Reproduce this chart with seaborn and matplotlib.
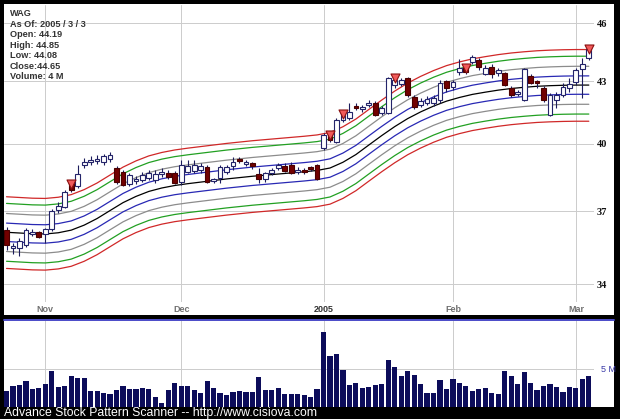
import numpy as np
import pandas as pd
import matplotlib
matplotlib.use("Agg")
import matplotlib.pyplot as plt
import matplotlib.transforms as mtransforms
from matplotlib.patches import Rectangle
from matplotlib.lines import Line2D
from matplotlib.ticker import NullLocator, FixedLocator, FixedFormatter
import seaborn as sns

sns.set_theme(style="white")
plt.rcParams["font.family"] = ["Liberation Sans", "DejaVu Sans"]

# ---------------- data ----------------
opens = [36.19, 35.44, 35.44, 35.57, 36.02, 36.11, 36.02, 36.23, 37.04, 37.17,
         38.26, 38.09, 39.03, 39.16, 39.21, 39.16, 39.29, 38.89, 38.71, 38.17,
         38.31, 38.35, 38.44, 38.35, 38.62, 38.66, 38.66, 38.26, 38.71, 38.75,
         38.80, 38.94, 38.31, 38.44, 38.71, 38.98, 39.29, 39.07, 39.12, 38.62,
         38.40, 38.66, 38.89, 38.98, 39.03, 38.71, 38.80, 38.94, 39.03, 39.80,
         40.50, 40.08, 41.11, 41.21, 41.78, 41.64, 41.83, 41.93, 41.45, 41.45,
         42.81, 42.86, 43.16, 42.22, 41.83, 41.93, 41.93, 42.07, 43.01, 42.71,
         43.46, 43.72, 43.97, 44.07, 43.36, 43.72, 43.41, 43.41, 42.66, 42.37,
         42.07, 43.26, 43.01, 42.66, 41.35, 42.07, 42.32, 42.66, 42.96, 43.62,
         44.19]
highs = [36.32, 35.65, 35.85, 36.27, 36.23, 36.15, 36.27, 37.08, 37.38, 37.91,
         38.35, 39.03, 39.34, 39.43, 39.48, 39.53, 39.62, 38.98, 38.80, 38.66,
         38.53, 38.71, 38.80, 38.80, 38.89, 38.80, 38.75, 39.25, 39.25, 39.25,
         39.12, 39.03, 38.44, 39.03, 39.03, 39.39, 39.39, 39.25, 39.16, 38.89,
         38.71, 38.89, 39.12, 39.12, 39.16, 38.94, 38.89, 38.98, 39.07, 40.50,
         40.59, 41.21, 41.59, 41.93, 41.93, 41.83, 42.07, 42.02, 41.78, 43.21,
         43.36, 43.16, 43.21, 42.32, 42.17, 42.27, 42.32, 43.06, 43.06, 43.06,
         44.12, 43.87, 44.33, 44.17, 43.82, 43.87, 43.67, 43.46, 42.76, 42.56,
         43.67, 43.36, 43.06, 42.76, 42.42, 42.47, 42.91, 43.16, 43.67, 44.17,
         44.85]
lows = [35.36, 35.20, 35.11, 35.48, 35.94, 35.85, 35.65, 36.15, 36.91, 37.13,
        37.82, 38.00, 38.89, 39.03, 39.07, 39.03, 39.16, 38.17, 38.09, 38.09,
        38.17, 38.26, 38.35, 38.22, 38.48, 38.40, 38.17, 38.13, 38.66, 38.66,
        38.66, 38.22, 38.22, 38.22, 38.62, 38.80, 39.12, 38.98, 38.85, 38.22,
        38.26, 38.57, 38.80, 38.71, 38.62, 38.62, 38.62, 38.75, 38.35, 39.71,
        40.08, 40.03, 41.02, 41.11, 41.59, 41.49, 41.73, 41.30, 41.35, 41.40,
        42.66, 42.76, 42.22, 41.64, 41.73, 41.83, 41.78, 41.93, 42.47, 42.56,
        43.31, 43.36, 43.87, 43.57, 43.31, 43.16, 43.26, 42.76, 42.22, 42.27,
        42.02, 42.86, 42.66, 41.97, 41.30, 41.69, 42.22, 42.47, 42.81, 42.17,
        44.08]
closes = [35.57, 35.52, 35.73, 36.19, 36.11, 35.90, 36.23, 37.00, 37.21, 37.82,
          37.91, 38.62, 39.16, 39.25, 39.29, 39.43, 39.48, 38.26, 38.13, 38.57,
          38.40, 38.57, 38.66, 38.62, 38.71, 38.48, 38.22, 39.03, 38.98, 39.03,
          38.98, 38.26, 38.40, 38.94, 38.94, 39.16, 39.21, 39.16, 38.98, 38.40,
          38.66, 38.80, 39.03, 38.75, 38.66, 38.80, 38.71, 38.85, 38.40, 40.41,
          40.17, 41.11, 41.45, 41.49, 41.69, 41.73, 41.93, 41.35, 41.69, 43.16,
          43.06, 43.06, 42.32, 41.73, 42.02, 42.12, 42.17, 42.91, 42.66, 42.96,
          43.67, 43.46, 44.22, 43.72, 43.67, 43.36, 43.57, 42.81, 42.32, 42.47,
          43.62, 42.91, 42.91, 42.07, 42.32, 42.32, 42.71, 42.86, 43.57, 43.87,
          44.65]
volumes = [2.04, 2.78, 2.91, 3.35, 2.30, 2.52, 2.96, 4.65, 2.57, 2.70,
           4.09, 3.74, 3.74, 2.04, 2.04, 1.87, 1.70, 2.26, 2.70, 2.35,
           2.30, 2.48, 2.35, 1.35, 0.48, 2.26, 3.17, 2.78, 2.78, 2.17,
           1.87, 3.35, 2.48, 1.87, 1.52, 1.96, 2.04, 1.96, 1.96, 3.87,
           2.17, 2.26, 2.52, 1.65, 1.70, 1.70, 1.52, 1.26, 2.30, 9.78,
           6.61, 6.83, 4.78, 2.87, 3.17, 2.43, 2.57, 2.87, 2.96, 6.09,
           5.26, 4.04, 4.70, 4.13, 3.04, 1.87, 1.87, 3.52, 2.30, 3.65,
           3.17, 2.78, 2.04, 2.30, 2.43, 1.78, 1.65, 4.65, 4.00, 3.04,
           4.52, 3.17, 2.17, 2.78, 2.96, 2.61, 1.91, 2.57, 2.48, 3.61,
           4.09]
signal_idx = [10, 50, 52, 60, 71, 90]

month_idx = [6, 27, 49, 69, 88]
month_labels = ["Nov", "Dec", "2005", "Feb", "Mar"]

center_idx = [0, 2, 4, 6, 8, 10, 12, 14, 16, 18, 20, 22, 24, 26, 28, 30, 32,
              34, 36, 38, 40, 42, 44, 46, 48, 50, 52, 54, 56, 58, 60, 62, 64,
              66, 68, 70, 72, 74, 76, 78, 80, 82, 84, 86, 88, 90]
center_val = [36.10, 36.07, 36.04, 36.03, 36.08, 36.19, 36.40, 36.68, 37.02,
              37.36, 37.63, 37.85, 38.00, 38.11, 38.19, 38.26, 38.33, 38.40,
              38.46, 38.52, 38.57, 38.62, 38.67, 38.72, 38.78, 38.89, 39.15,
              39.50, 39.94, 40.38, 40.80, 41.18, 41.50, 41.78, 42.02, 42.20,
              42.35, 42.46, 42.56, 42.64, 42.70, 42.75, 42.78, 42.80, 42.81,
              42.81]
band_factors = [1.042, 1.034, 1.022, 1.0107, 1.0, 0.9894, 0.978, 0.967, 0.959]
band_colors = ["#d02828", "#22a022", "#8c8c8c", "#2828b4", "#000000",
               "#2828b4", "#8c8c8c", "#22a022", "#d02828"]

price_ticks = [34, 37, 40, 43, 46]
vol_ticks = [5]
vol_tick_labels = ["5 M"]

info_lines = ["WAG", "As Of: 2005 / 3 / 3", "Open: 44.19", "High: 44.85",
              "Low: 44.08", "Close:44.65", "Volume: 4 M"]
footer = "Advance Stock Pattern Scanner -- http://www.cisiova.com"

# ---------------- figure ----------------
W, H = 620, 419
fig = plt.figure(figsize=(W / 100, H / 100), dpi=100, facecolor="black")


def frame(x0, y0, x1, y1):
    return [x0 / W, 1 - y1 / H, (x1 - x0) / W, (y1 - y0) / H]


fig.patches.append(Rectangle((4 / W, 1 - 315 / H), 610 / W, 311 / H,
                             transform=fig.transFigure, facecolor="white",
                             edgecolor="none", zorder=-5))
fig.patches.append(Rectangle((4 / W, 1 - 407 / H), 610 / W, 88 / H,
                             transform=fig.transFigure, facecolor="white",
                             edgecolor="none", zorder=-5))
fig.add_artist(Line2D([4 / W, 614 / W], [1 - 319.5 / H] * 2,
                      transform=fig.transFigure, color="#4a4ac8", lw=1.4))

ax = fig.add_axes(frame(4, 5, 594, 302))
axv = fig.add_axes(frame(4, 320, 594, 407))

idx = np.arange(len(closes))
df = pd.DataFrame({"i": idx, "open": opens, "high": highs, "low": lows,
                   "close": closes, "volume": volumes})

# ---- bands ----
for f, col in zip(band_factors, band_colors):
    sns.lineplot(x=center_idx, y=[c * f for c in center_val], ax=ax,
                 color=col, lw=0.9, legend=False, zorder=2)

# ---- candles ----
up = df["close"] >= df["open"]
ax.vlines(df["i"], df["low"], df["high"], color="#1c1c5c", lw=0.8, zorder=3)
body_lo = np.minimum(df["open"], df["close"])
body_h = np.maximum(np.abs(df["close"] - df["open"]), 0.02)
ax.bar(df["i"][up], body_h[up], bottom=body_lo[up], width=0.74,
       facecolor="white", edgecolor="#24246a", lw=0.8, zorder=4)
ax.bar(df["i"][~up], body_h[~up], bottom=body_lo[~up], width=0.74,
       facecolor="#720000", edgecolor="#4a0000", lw=0.8, zorder=4)

# ---- signal triangles ----
sig = df.loc[signal_idx]
tr = mtransforms.offset_copy(ax.transData, fig=fig, y=-4, units="dots")
ax.scatter(sig["i"], sig["high"], marker="v", s=42, color="#f05a5a",
           edgecolor="#8a1010", linewidths=0.8, zorder=5, transform=tr)

ax.set_yscale("log")
ax.set_ylim(33.30, 46.97)
ax.set_xlim(-0.39, 90.8)
ax.yaxis.set_major_locator(FixedLocator(price_ticks))
ax.yaxis.set_major_formatter(FixedFormatter([str(t) for t in price_ticks]))
ax.yaxis.set_minor_locator(NullLocator())
ax.yaxis.tick_right()
ax.tick_params(axis="y", length=0, pad=2, labelsize=7.5, labelcolor="#111111")
for lbl in ax.get_yticklabels():
    lbl.set_fontfamily(["Liberation Serif", "DejaVu Serif"])
    lbl.set_fontweight("bold")
ax.set_xticks(month_idx)
ax.set_xticklabels(month_labels)
ax.tick_params(axis="x", length=0, pad=2.5, labelsize=6.5, labelcolor="#707070")
for lbl in ax.get_xticklabels():
    lbl.set_fontweight("bold")
    if lbl.get_text() == "2005":
        lbl.set_color("#333333")
ax.grid(True, color="#cccccc", lw=0.7)
ax.set_axisbelow(True)
ax.set_xlabel("")
ax.set_ylabel("")
ax.patch.set_facecolor("white")
for s in ax.spines.values():
    s.set_visible(False)

# ---- volume ----
sns.barplot(data=df, x="i", y="volume", ax=axv, native_scale=True,
            color="#0c0c5a", saturation=1, width=0.8, errorbar=None,
            linewidth=0)
axv.set_xlim(-0.39, 90.8)
axv.set_ylim(0, 11.3)
axv.set_xticks(month_idx)
axv.set_xticklabels([])
axv.yaxis.tick_right()
axv.set_yticks(vol_ticks)
axv.set_yticklabels(vol_tick_labels)
axv.tick_params(axis="y", length=0, pad=5, labelsize=6.5, labelcolor="#3a3aa8")
axv.tick_params(axis="x", length=0)
axv.grid(True, color="#cccccc", lw=0.7)
axv.set_axisbelow(True)
axv.set_xlabel("")
axv.set_ylabel("")
for s in axv.spines.values():
    s.set_visible(False)

# ---- texts ----
for k, line in enumerate(info_lines):
    fig.text(10 / W, 1 - (14 + 10.45 * k) / H, line, fontsize=6.6,
             fontweight="bold", color="#333333", va="center", ha="left")
fig.text(4 / W, 1 - 413 / H, footer, fontsize=8.85, color="white",
         va="center", ha="left")

fig.savefig("out.png", dpi=100, facecolor="black")
